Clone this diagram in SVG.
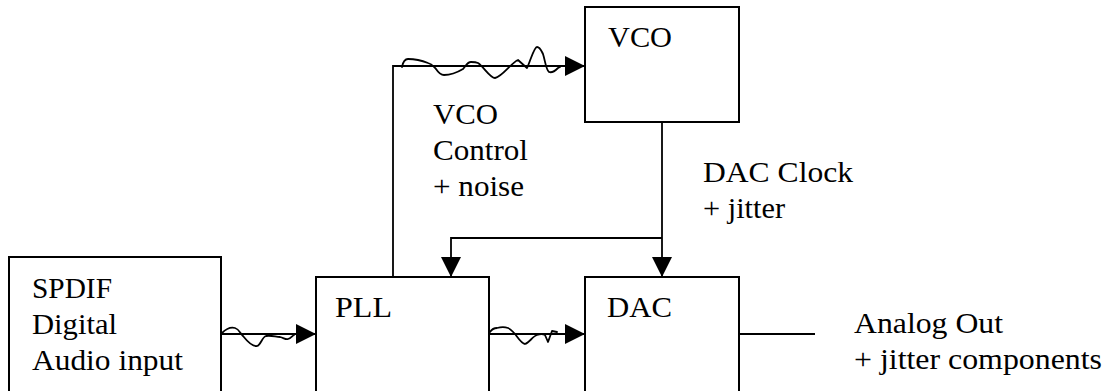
<svg xmlns="http://www.w3.org/2000/svg" width="1110" height="391" viewBox="0 0 1110 391" font-family="Liberation Serif, DejaVu Serif, serif">
<style>
  .box { fill: #fff; stroke: #000; stroke-width: 2; }
  .line { fill: none; stroke: #000; stroke-width: 1.8; }
  .wave { fill: none; stroke: #000; stroke-width: 1.8; stroke-linejoin: round; stroke-linecap: round; }
  .t { font-size: 29px; fill: #000; }
</style>
<defs>
  <marker id="arrow" markerUnits="userSpaceOnUse" markerWidth="20" markerHeight="20" viewBox="0 0 20 20" refX="20" refY="10" orient="auto">
    <path d="M0,0 L20,10 L0,20 Z" fill="#000"/>
  </marker>
</defs>
<rect width="1110" height="391" fill="#fff"/>

<g id="spdif">
  <rect class="box" x="9" y="257" width="212" height="160"/>
  <text class="t" x="32" y="298" textLength="80" lengthAdjust="spacingAndGlyphs">SPDIF</text>
  <text class="t" x="32" y="334" textLength="85" lengthAdjust="spacingAndGlyphs">Digital</text>
  <text class="t" x="32" y="370" textLength="151" lengthAdjust="spacingAndGlyphs">Audio input</text>
</g>

<g id="pll">
  <rect class="box" x="316" y="277" width="173" height="140"/>
  <text class="t" x="335" y="317" textLength="57" lengthAdjust="spacingAndGlyphs">PLL</text>
</g>

<g id="dac">
  <rect class="box" x="585" y="277" width="154" height="140"/>
  <text class="t" x="607" y="317" textLength="65" lengthAdjust="spacingAndGlyphs">DAC</text>
</g>

<g id="vco">
  <rect class="box" x="585" y="7" width="154" height="115"/>
  <text class="t" x="608" y="47" textLength="64" lengthAdjust="spacingAndGlyphs">VCO</text>
</g>

<g id="connectors">
  <line class="line" x1="221" y1="334" x2="316" y2="334" marker-end="url(#arrow)"/>
  <path class="wave" d="M222,333 C227,328 231,327 235,328 C239,329 240,333 243,336 C247,341 252,347 257,346 C261,345 262,337 266,336 C271,335 276,337 280,337 C284,338 286,340 288,339 C291,338 292,336 294,335"/>

  <line class="line" x1="489" y1="334" x2="585" y2="334" marker-end="url(#arrow)"/>
  <path class="wave" d="M490,332 C492,329 494,328 497,328 C501,327 505,327 508,328 C511,329 512,331 515,334 C518,338 522,344 525,344 C529,343 533,336 537,335 C540,334 543,334 545,335 L548,342 L552,331 L557,332"/>

  <polyline class="line" points="393,277 393,66 585,66" marker-end="url(#arrow)"/>
  <path class="wave" d="M402,67 C403,62 405,59 408,59 C414,59 423,61 428,63 C432,64 433,66 436,69 C438,72 440,75 444,75 C450,75 458,72 463,69 C466,66 467,62 471,62 C474,62 476,62 478,63 C484,67 490,78 495,78 C502,77 512,62 518,60 L527,68 C530,62 534,47 537,47 C540,47 541,50 543,54 C545,60 546,70 549,72 C552,73 556,70 558,68 L560,67"/>

  <line class="line" x1="662" y1="122" x2="662" y2="277" marker-end="url(#arrow)"/>
  <polyline class="line" points="662,238 451,238 451,277" marker-end="url(#arrow)"/>

  <line class="line" x1="739" y1="334" x2="815" y2="334"/>
</g>

<g id="labels">
  <text class="t" x="433" y="124" textLength="65" lengthAdjust="spacingAndGlyphs">VCO</text>
  <text class="t" x="433" y="160" textLength="95" lengthAdjust="spacingAndGlyphs">Control</text>
  <text class="t" x="433" y="196" textLength="91" lengthAdjust="spacingAndGlyphs">+ noise</text>
  <text class="t" x="703" y="182" textLength="150" lengthAdjust="spacingAndGlyphs">DAC Clock</text>
  <text class="t" x="703" y="218" textLength="82" lengthAdjust="spacingAndGlyphs">+ jitter</text>
  <text class="t" x="854" y="333" textLength="149" lengthAdjust="spacingAndGlyphs">Analog Out</text>
  <text class="t" x="854" y="369" textLength="248" lengthAdjust="spacingAndGlyphs">+ jitter components</text>
</g>
</svg>
